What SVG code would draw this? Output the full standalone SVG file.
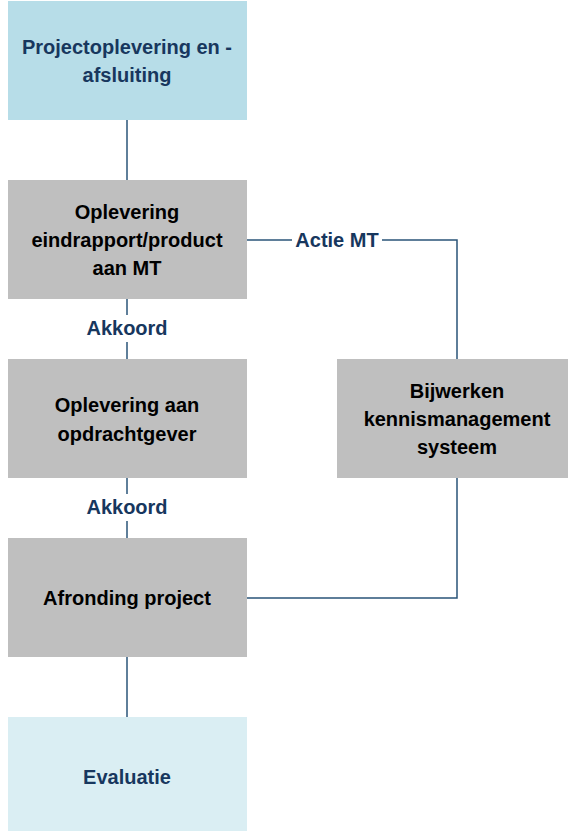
<svg xmlns="http://www.w3.org/2000/svg" width="568" height="831" viewBox="0 0 568 831">
<style>
.box{stroke:none}
.grey{fill:#bfbfbf}
.t{font-family:"Liberation Sans",Arial,sans-serif;font-weight:bold;font-size:20px;text-anchor:middle}
.dark{fill:#000}
.blue{fill:#17375e}
.conn{fill:none;stroke:#2a5478;stroke-width:1.5}
.lbl{font-family:"Liberation Sans",Arial,sans-serif;font-weight:bold;font-size:20px;fill:#17375e;text-anchor:middle}
</style>
<rect width="568" height="831" fill="#fff"/>
<g id="connectors">
<line class="conn" x1="127" y1="120" x2="127" y2="180"/>
<line class="conn" x1="127" y1="299" x2="127" y2="315"/>
<line class="conn" x1="127" y1="342" x2="127" y2="359"/>
<line class="conn" x1="127" y1="478" x2="127" y2="494"/>
<line class="conn" x1="127" y1="521" x2="127" y2="538"/>
<line class="conn" x1="127" y1="657" x2="127" y2="717"/>
<polyline class="conn" points="247,240 292,240"/>
<polyline class="conn" points="382,240 457,240 457,359"/>
<polyline class="conn" points="457,478 457,598 247,598"/>
<text class="lbl" x="337" y="247">Actie MT</text>
<text class="lbl" x="127" y="335">Akkoord</text>
<text class="lbl" x="127" y="514">Akkoord</text>
</g>
<g id="n1">
<rect class="box" x="8" y="1" width="239" height="119" fill="#b7dde8"/>
<text class="t blue" x="127" y="54">Projectoplevering en -</text>
<text class="t blue" x="127" y="82">afsluiting</text>
</g>
<g id="n2">
<rect class="box grey" x="8" y="180" width="239" height="119"/>
<text class="t dark" x="127" y="219">Oplevering</text>
<text class="t dark" x="127" y="247">eindrapport/product</text>
<text class="t dark" x="127" y="275">aan MT</text>
</g>
<g id="n3">
<rect class="box grey" x="8" y="359" width="239" height="119"/>
<text class="t dark" x="127" y="412">Oplevering aan</text>
<text class="t dark" x="127" y="441">opdrachtgever</text>
</g>
<g id="n4">
<rect class="box grey" x="8" y="538" width="239" height="119"/>
<text class="t dark" x="127" y="605">Afronding project</text>
</g>
<g id="n5">
<rect class="box" x="8" y="717" width="239" height="114" fill="#daeef3"/>
<text class="t blue" x="127" y="784">Evaluatie</text>
</g>
<g id="n6">
<rect class="box grey" x="337" y="359" width="231" height="119"/>
<text class="t dark" x="457" y="398">Bijwerken</text>
<text class="t dark" x="457" y="426">kennismanagement</text>
<text class="t dark" x="457" y="454">systeem</text>
</g>
</svg>
